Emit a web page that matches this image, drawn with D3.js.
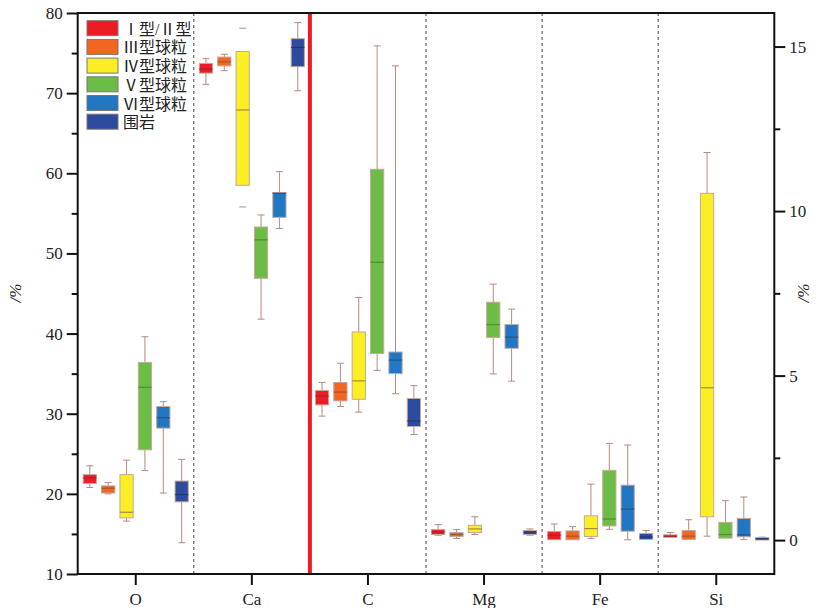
<!DOCTYPE html>
<html>
<head>
<meta charset="utf-8">
<script src="https://cdn.jsdelivr.net/npm/d3@7"></script>
<style>
  body { margin: 0; background: #fff; }
  svg { display: block; }
</style>
</head>
<body>
<svg id="chart" width="822" height="608"></svg>
<script>
// element categories; first three read on the left axis, last three on the right axis
const elements = ["O", "Ca", "C", "Mg", "Fe", "Si"];
const rightAxisElements = ["Mg", "Fe", "Si"];
const seriesNames = ["Ⅰ型/Ⅱ型", "Ⅲ型球粒", "Ⅳ型球粒", "Ⅴ型球粒", "Ⅵ型球粒", "围岩"];

// per series: [whisker low, Q1, median, Q3, whisker high] for O, Ca, C, Mg, Fe, Si
const typeI_II = [
  [20.8, 21.3, 22.0, 22.4, 23.5],
  [71.1, 72.5, 73.0, 73.7, 74.3],
  [29.7, 31.1, 32.2, 32.9, 33.9],
  [0.15, 0.17, 0.25, 0.32, 0.47],
  [0.01, 0.01, 0.15, 0.26, 0.49],
  [0.08, 0.08, 0.12, 0.16, 0.23]
];
const typeIII = [
  [20.0, 20.1, 20.7, 21.0, 21.4],
  [72.8, 73.4, 73.9, 74.5, 74.85],
  [30.9, 31.6, 32.7, 33.9, 36.3],
  [0.05, 0.11, 0.17, 0.23, 0.32],
  [0.01, 0.01, 0.12, 0.28, 0.41],
  [0.02, 0.02, 0.12, 0.29, 0.62]
];
const typeIV = [
  [16.6, 17.0, 17.7, 22.4, 24.2],
  [58.5, 58.5, 67.9, 75.2, 75.2],
  [30.2, 31.8, 34.1, 40.2, 44.5],
  [0.17, 0.23, 0.34, 0.45, 0.71],
  [0.05, 0.11, 0.35, 0.74, 1.70],
  [0.12, 0.71, 4.63, 10.54, 11.78]
];
const typeV = [
  [22.9, 25.5, 33.3, 36.4, 39.6],
  [41.8, 46.9, 51.7, 53.3, 54.8],
  [35.4, 37.5, 48.9, 60.5, 75.9],
  [5.05, 6.16, 6.55, 7.23, 7.78],
  [0.33, 0.43, 0.64, 2.12, 2.94],
  [0.06, 0.06, 0.17, 0.54, 1.20]
];
const typeVI = [
  [20.1, 28.2, 29.5, 30.9, 31.5],
  [53.1, 54.5, 57.5, 57.6, 60.2],
  [32.5, 35.0, 36.7, 37.7, 73.4],
  [4.83, 5.83, 6.17, 6.55, 7.02],
  [0.01, 0.27, 0.94, 1.67, 2.89],
  [0.02, 0.10, 0.16, 0.66, 1.31]
];
const wallRock = [
  [13.9, 19.0, 19.9, 21.6, 24.3],
  [70.3, 73.3, 75.7, 76.8, 78.8],
  [27.4, 28.4, 29.1, 31.9, 33.5],
  [0.15, 0.17, 0.24, 0.29, 0.34],
  [0.02, 0.02, 0.09, 0.20, 0.29],
  [0.02, 0.02, 0.04, 0.06, 0.09]
];
const seriesStats = [typeI_II, typeIII, typeIV, typeV, typeVI, wallRock];

// loose min/max marks drawn without a whisker line
const extremeMarks = [
  { series: 2, element: "Ca", value: 78.1 },
  { series: 2, element: "Ca", value: 55.8 }
];

const leftTicks = [10, 20, 30, 40, 50, 60, 70, 80];
const leftMinorTicks = [15, 25, 35, 45, 55, 65, 75];
const rightTicks = [0, 5, 10, 15];
const rightMinorTicks = [2.5, 7.5, 12.5];

const fills = ["#ec1c24", "#f26522", "#fbee23", "#6cbd45", "#2177c1", "#2e4a9e"];
const medianColors = ["#a3262b", "#a8572a", "#a88d35", "#55883a", "#24578a", "#25376e"];
const boxStroke = "#c7a79e";
const whiskerColor = "#b78a80";

// layout
const plot = { left: 77.7, right: 774.3, top: 13, bottom: 574 };
const serif = "'Liberation Serif', 'Times New Roman', serif";

const svg = d3.select("#chart");

const x = d3.scaleBand().domain(elements).range([plot.left, plot.right]).padding(0);
const xs = d3.scaleBand().domain(d3.range(seriesNames.length))
    .range([0, x.bandwidth()]).paddingInner(0.28).paddingOuter(0.3);
const yLeft = d3.scaleLinear().domain([10, 80]).range([plot.bottom, plot.top]);
const yRight = d3.scaleLinear().domain([-1.03, 16.02]).range([plot.bottom, plot.top]);
const yFor = el => rightAxisElements.includes(el) ? yRight : yLeft;

// category separators
elements.slice(1).forEach((el, i) => {
    const xx = x(el);
    const isRed = i === 1; // between Ca and C
    svg.append("line")
        .attr("x1", xx).attr("x2", xx)
        .attr("y1", plot.top).attr("y2", plot.bottom)
        .attr("stroke", isRed ? "#ed1c24" : "#444")
        .attr("stroke-width", isRed ? 4 : 1)
        .attr("stroke-dasharray", isRed ? null : "3,3");
});

// box plots
const capW = 7;
seriesStats.forEach((stats, si) => {
    const g = svg.append("g");
    elements.forEach((el, ei) => {
        const [lo, q1, med, q3, hi] = stats[ei];
        const y = yFor(el);
        const bx = x(el) + xs(si);
        const bw = xs.bandwidth();
        const cx = bx + bw / 2;

        // whiskers
        if (hi > q3) {
            g.append("line").attr("x1", cx).attr("x2", cx)
                .attr("y1", y(q3)).attr("y2", y(hi))
                .attr("stroke", whiskerColor).attr("stroke-width", 1);
            g.append("line").attr("x1", cx - capW / 2).attr("x2", cx + capW / 2)
                .attr("y1", y(hi)).attr("y2", y(hi))
                .attr("stroke", whiskerColor).attr("stroke-width", 1);
        }
        if (lo < q1) {
            g.append("line").attr("x1", cx).attr("x2", cx)
                .attr("y1", y(q1)).attr("y2", y(lo))
                .attr("stroke", whiskerColor).attr("stroke-width", 1);
            g.append("line").attr("x1", cx - capW / 2).attr("x2", cx + capW / 2)
                .attr("y1", y(lo)).attr("y2", y(lo))
                .attr("stroke", whiskerColor).attr("stroke-width", 1);
        }

        // box (keep a minimum height so thin boxes stay visible)
        const top = y(q3), bottom = y(q1);
        const h = Math.max(bottom - top, 2.5);
        g.append("rect")
            .attr("x", bx).attr("y", (top + bottom) / 2 - h / 2)
            .attr("width", bw).attr("height", h)
            .attr("fill", fills[si])
            .attr("stroke", boxStroke).attr("stroke-width", 1);

        g.append("line").attr("x1", bx).attr("x2", bx + bw)
            .attr("y1", y(med)).attr("y2", y(med))
            .attr("stroke", medianColors[si]).attr("stroke-width", 1.2);
    });
});

extremeMarks.forEach(m => {
    const cx = x(m.element) + xs(m.series) + xs.bandwidth() / 2;
    const y = yFor(m.element);
    svg.append("line").attr("x1", cx - capW / 2).attr("x2", cx + capW / 2)
        .attr("y1", y(m.value)).attr("y2", y(m.value))
        .attr("stroke", whiskerColor).attr("stroke-width", 1);
});

// frame
svg.append("rect")
    .attr("x", plot.left).attr("y", plot.top)
    .attr("width", plot.right - plot.left).attr("height", plot.bottom - plot.top)
    .attr("fill", "none").attr("stroke", "#111").attr("stroke-width", 2);

// left axis
svg.append("g")
    .attr("transform", `translate(${plot.left},0)`)
    .call(d3.axisLeft(yLeft).tickValues(leftTicks).tickSize(11).tickPadding(4));
svg.append("g")
    .attr("transform", `translate(${plot.left},0)`)
    .call(d3.axisLeft(yLeft).tickValues(leftMinorTicks).tickSize(6).tickFormat(""));

// right axis
svg.append("g")
    .attr("transform", `translate(${plot.right},0)`)
    .call(d3.axisRight(yRight).tickValues(rightTicks).tickSize(11).tickPadding(4));
svg.append("g")
    .attr("transform", `translate(${plot.right},0)`)
    .call(d3.axisRight(yRight).tickValues(rightMinorTicks).tickSize(6).tickFormat(""));

// bottom axis
svg.append("g")
    .attr("transform", `translate(0,${plot.bottom})`)
    .call(d3.axisBottom(x).tickSize(11).tickPadding(8));

svg.selectAll(".domain").remove();
svg.selectAll(".tick line").attr("stroke", "#111").attr("stroke-width", 2);
svg.selectAll(".tick text")
    .attr("font-family", serif).attr("font-size", 17).attr("fill", "#222");

// axis titles
svg.append("text")
    .attr("transform", "translate(21,293) rotate(-90)")
    .attr("text-anchor", "middle")
    .attr("font-family", serif).attr("font-style", "italic").attr("font-size", 17)
    .attr("fill", "#222")
    .text("/%");
svg.append("text")
    .attr("transform", "translate(809,293) rotate(-90)")
    .attr("text-anchor", "middle")
    .attr("font-family", serif).attr("font-style", "italic").attr("font-size", 17)
    .attr("fill", "#222")
    .text("/%");

// legend
const legend = svg.append("g").attr("transform", "translate(87,20.7)");
seriesNames.forEach((name, i) => {
    const row = legend.append("g").attr("transform", `translate(0,${i * 18.7})`);
    row.append("rect")
        .attr("width", 31).attr("height", 15)
        .attr("fill", fills[i]).attr("stroke", "#777").attr("stroke-width", 1);
    row.append("text")
        .attr("x", 36).attr("y", 14)
        .attr("font-family", serif + ", 'Noto Sans CJK SC'")
        .attr("font-size", 16).attr("fill", "#222")
        .text(name);
});
</script>
</body>
</html>
